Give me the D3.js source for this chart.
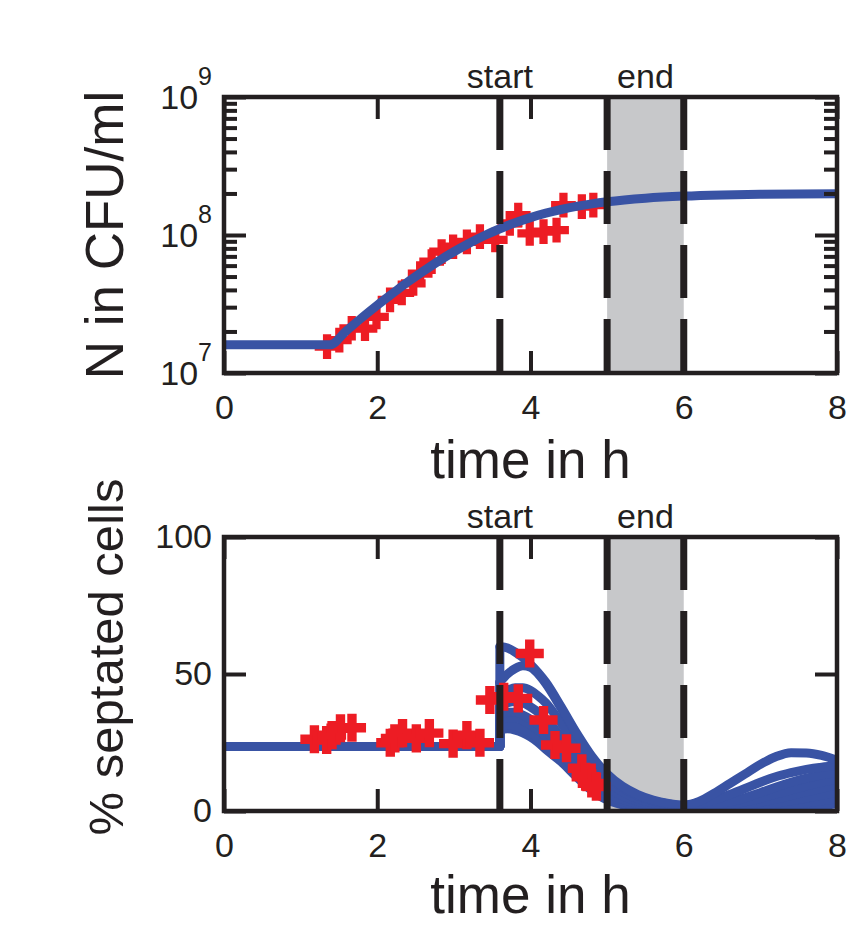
<!DOCTYPE html>
<html>
<head>
<meta charset="utf-8">
<script src="https://cdn.jsdelivr.net/npm/d3@7/dist/d3.min.js"></script>
<style>
  html, body { margin: 0; padding: 0; background: #fff; }
  svg { display: block; font-family: "Liberation Sans", Arial, Helvetica, sans-serif; }
  .tick text { fill: #231f20; }
</style>
</head>
<body>
<svg id="chart" width="851" height="927"></svg>
<script>
// ---- data ----
const xTicks = [0, 2, 4, 6, 8];
const nMajorTicks = [1e7, 1e8, 1e9];
const nMinorTicks = [2e7, 3e7, 4e7, 5e7, 6e7, 7e7, 8e7, 9e7, 2e8, 3e8, 4e8, 5e8, 6e8, 7e8, 8e8, 9e8];
const sepTicks = [0, 50, 100];
const treatStart = 3.6;
const treatEnd = [5, 6];

// model fit of cell density (CFU/ml)
const growthT = [0, 1.38, 1.6, 1.8, 2.0, 2.2, 2.4, 2.6, 2.8, 3.0, 3.2, 3.4, 3.6, 3.8, 4.0, 4.2, 4.4, 4.6, 4.8, 5.0, 5.5, 6.0, 6.5, 7.0, 7.5, 8.0];
const growthN = [1.6e7, 1.6e7, 2.03e7, 2.52e7, 3.1e7, 3.77e7, 4.57e7, 5.46e7, 6.47e7, 7.56e7, 8.71e7, 9.91e7, 1.11e8, 1.227e8, 1.337e8, 1.439e8, 1.53e8, 1.611e8, 1.681e8, 1.74e8, 1.848e8, 1.914e8, 1.952e8, 1.973e8, 1.985e8, 1.992e8];

// measured cell density
const countT = [1.345, 1.505, 1.667, 1.84, 1.99, 2.167, 2.32, 2.47, 2.56, 2.71, 2.84, 2.99, 3.17, 3.34, 3.54, 3.73, 3.84, 3.99, 4.17, 4.34, 4.43, 4.67, 4.82];
const countN = [1.55e7, 1.73e7, 2.11e7, 2.1e7, 2.55e7, 3.39e7, 3.8e7, 4.47e7, 5.25e7, 6.41e7, 7.59e7, 8.22e7, 8.91e7, 9.72e7, 9.2e7, 1.216e8, 1.396e8, 1.028e8, 1.057e8, 1.086e8, 1.648e8, 1.603e8, 1.648e8];

// septated fraction: common pre-treatment level, then model runs
const sepBefore = 23.5;
const postT = [3.6, 3.7, 3.8, 3.9, 4.0, 4.1, 4.2, 4.4, 4.6, 4.8, 5.0, 5.2, 5.4, 5.6, 5.8, 6.0, 6.2, 6.4, 6.6, 6.8, 7.0, 7.2, 7.4, 7.6, 7.8, 8.0];
const runA = [60, 59.5, 58, 56, 53.5, 50.5, 47, 38, 28.5, 20, 13.5, 9, 6, 4, 2.8, 2.2, 3.5, 6.5, 10, 13.5, 17, 19.8, 21.3, 21.2, 20.3, 18.5];
const runB = [47, 50, 52, 53, 52.5, 50, 46.5, 37.5, 28, 19.5, 13, 8.5, 5.5, 3.7, 2.6, 2.0, 2.5, 4, 6, 8.2, 10.5, 12.5, 14, 15.2, 16, 16.5];
const runC = [42, 44, 45, 45, 44, 42, 39.5, 32, 24, 16.5, 11, 7, 4.5, 3, 2.2, 1.7, 1.8, 2.3, 3.3, 4.8, 6.7, 8.7, 10.5, 12, 13.2, 14];
const runD = [38, 39.5, 40, 39.5, 38, 36, 33.5, 27, 20, 13.5, 8.5, 5.5, 3.5, 2.3, 1.7, 1.3, 1.4, 1.7, 2.3, 3.3, 4.6, 6.1, 7.7, 9.2, 10.5, 11.5];
const runE = [35, 36, 36, 35, 33.5, 31.5, 29, 23, 16.5, 11, 6.8, 4.2, 2.7, 1.8, 1.3, 1.0, 1.0, 1.2, 1.6, 2.3, 3.2, 4.3, 5.6, 7.0, 8.3, 9.5];
const runF = [33, 34, 34, 33, 31.5, 29.5, 27, 21, 15, 9.5, 5.8, 3.5, 2.2, 1.5, 1.0, 0.8, 0.8, 0.9, 1.1, 1.5, 2.1, 2.8, 3.7, 4.7, 5.8, 6.8];
const runG = [31, 31.5, 31, 30, 28.5, 26.5, 24, 18.5, 13, 8, 4.8, 2.8, 1.7, 1.1, 0.8, 0.6, 0.6, 0.6, 0.7, 0.9, 1.2, 1.6, 2.2, 2.9, 3.7, 4.5];
const runH = [29.5, 30, 29.5, 28.5, 27, 25, 22.5, 18, 12.5, 7.5, 4, 2.3, 1.3, 0.8, 0.5, 0.4, 0.4, 0.4, 0.4, 0.5, 0.6, 0.8, 1.1, 1.5, 2.0, 2.6];
const sepRuns = [runH, runG, runF, runE, runD, runC, runB, runA];

// measured septated cells (%)
const septT = [1.18, 1.34, 1.41, 1.52, 1.67, 2.17, 2.23, 2.33, 2.51, 2.68, 2.99, 3.17, 3.34, 3.47, 3.65, 3.84, 3.99, 4.17, 4.32, 4.47, 4.67, 4.72, 4.80, 4.86];
const septV = [26.2, 25.9, 27.7, 30.2, 30.4, 24.9, 26.5, 28.4, 26.5, 28.4, 24.6, 27.7, 24.9, 40.5, 41.7, 41.1, 57.5, 33.2, 24.1, 22.9, 15.6, 12.5, 10.1, 8.9];

// ---- drawing ----
const INK = "#231f20", BLUE = "#3953a4", RED = "#ed1c24", GRAY = "#c7c8ca";
const FONT = 34;
const left = 224, right = 837;
const svg = d3.select("#chart");

const x = d3.scaleLinear().domain([0, 8]).range([left, right]);

function panel(cfg, drawData) {
  const { id, top, bottom, y, yMajor, yMinor, yLabel, labelSize, labelShift, xLabelGap, logLabels } = cfg;
  const g = svg.append("g");
  g.append("clipPath").attr("id", id)
    .append("rect").attr("x", left).attr("y", top).attr("width", right - left).attr("height", bottom - top);

  // treatment window
  g.append("rect")
    .attr("x", x(treatEnd[0])).attr("y", top)
    .attr("width", x(treatEnd[1]) - x(treatEnd[0])).attr("height", bottom - top)
    .attr("fill", GRAY);

  const plot = g.append("g").attr("clip-path", `url(#${id})`);
  drawData(plot);

  // dashed markers
  [treatStart, ...treatEnd].forEach(t => {
    g.append("line")
      .attr("x1", x(t)).attr("x2", x(t)).attr("y1", top).attr("y2", bottom)
      .attr("stroke", INK).attr("stroke-width", 7).attr("stroke-dasharray", "53,21");
  });
  g.append("text").attr("x", x(treatStart)).attr("y", top - 9)
    .attr("text-anchor", "middle").attr("font-size", FONT).attr("fill", INK).text("start");
  g.append("text").attr("x", x((treatEnd[0] + treatEnd[1]) / 2)).attr("y", top - 9)
    .attr("text-anchor", "middle").attr("font-size", FONT).attr("fill", INK).text("end");

  const tickStyle = sel => {
    sel.select(".domain").remove();
    sel.selectAll(".tick line").attr("stroke", INK).attr("stroke-width", 4);
  };

  // x axes (inward ticks)
  g.append("g").attr("transform", `translate(0,${bottom})`)
    .call(d3.axisBottom(x).tickValues(xTicks).tickSize(-22).tickPadding(22).tickFormat(d3.format("d")))
    .call(tickStyle)
    .call(s => s.selectAll("text").attr("font-size", FONT).attr("font-family", null));
  g.append("g").attr("transform", `translate(0,${top})`)
    .call(d3.axisTop(x).tickValues(xTicks).tickSize(-22).tickFormat(""))
    .call(tickStyle);

  // y axes
  g.append("g").attr("transform", `translate(${left},0)`)
    .call(d3.axisLeft(y).tickValues(yMajor).tickSize(-22).tickPadding(12)
      .tickFormat(logLabels ? "" : d3.format("d")))
    .call(tickStyle)
    .call(s => s.selectAll("text").attr("font-size", FONT).attr("font-family", null));
  g.append("g").attr("transform", `translate(${right},0)`)
    .call(d3.axisRight(y).tickValues(yMajor).tickSize(-22).tickFormat(""))
    .call(tickStyle);
  if (yMinor) {
    g.append("g").attr("transform", `translate(${left},0)`)
      .call(d3.axisLeft(y).tickValues(yMinor).tickSize(-13).tickFormat(""))
      .call(tickStyle);
    g.append("g").attr("transform", `translate(${right},0)`)
      .call(d3.axisRight(y).tickValues(yMinor).tickSize(-13).tickFormat(""))
      .call(tickStyle);
  }
  if (logLabels) {
    yMajor.forEach(v => {
      const t = g.append("text").attr("x", left - 12).attr("y", y(v) + 12)
        .attr("text-anchor", "end").attr("fill", INK).attr("font-size", FONT);
      t.append("tspan").text("10");
      t.append("tspan").attr("font-size", 25).attr("dy", -24).text(Math.round(Math.log10(v)));
    });
  }

  // frame
  g.append("rect").attr("x", left).attr("y", top).attr("width", right - left).attr("height", bottom - top)
    .attr("fill", "none").attr("stroke", INK).attr("stroke-width", 4.5);

  // axis titles
  g.append("text").attr("x", (left + right) / 2).attr("y", bottom + xLabelGap)
    .attr("text-anchor", "middle").attr("font-size", 53).attr("fill", INK).text("time in h");
  g.append("text").attr("transform", `translate(123,${(top + bottom) / 2 + labelShift}) rotate(-90)`)
    .attr("text-anchor", "middle").attr("font-size", labelSize).attr("fill", INK).text(yLabel);
}

const plus = (size) => d3.symbol().type(d3.symbolCross).size(size)();

// growth panel
const yN = d3.scaleLog().domain([1e7, 1e9]).range([373, 97]);
panel({ id: "clipN", top: 97, bottom: 373, y: yN, yMajor: nMajorTicks, yMinor: nMinorTicks,
        yLabel: "N in CFU/ml", labelSize: 53, labelShift: 0, xLabelGap: 105, logLabels: true }, plot => {
  plot.selectAll("path.pt").data(countT).join("path")
    .attr("transform", (t, i) => `translate(${x(t)},${yN(countN[i])})`)
    .attr("d", plus(340)).attr("fill", RED);
  const line = d3.line().x(d => x(d[0])).y(d => yN(d[1])).curve(d3.curveMonotoneX);
  plot.append("path").attr("d", line(growthT.map((t, i) => [t, growthN[i]])))
    .attr("fill", "none").attr("stroke", BLUE).attr("stroke-width", 9).attr("stroke-linejoin", "round");
});

// septation panel
const yS = d3.scaleLinear().domain([0, 100]).range([811, 537]);
panel({ id: "clipS", top: 537, bottom: 811, y: yS, yMajor: sepTicks, yMinor: null,
        yLabel: "% septated cells", labelSize: 49, labelShift: -17, xLabelGap: 102, logLabels: false }, plot => {
  const lin = d3.line().x(d => x(d[0])).y(d => yS(d[1]));
  const smooth = d3.line().x(d => x(d[0])).y(d => yS(d[1])).curve(d3.curveMonotoneX);
  const style = p => p.attr("fill", "none").attr("stroke", BLUE).attr("stroke-width", 9)
    .attr("stroke-linejoin", "round").attr("stroke-linecap", "round");
  sepRuns.forEach(run => {
    plot.append("path").attr("d", lin([[0, sepBefore], [treatStart, sepBefore], [treatStart, run[0]]])).call(style);
    plot.append("path").attr("d", smooth(postT.map((t, i) => [t, run[i]]))).call(style);
  });
  plot.selectAll("path.pt").data(septT).join("path")
    .attr("transform", (t, i) => `translate(${x(t)},${yS(septV[i])})`)
    .attr("d", plus(440)).attr("fill", RED);
});
</script>
</body>
</html>
